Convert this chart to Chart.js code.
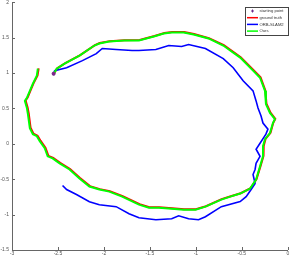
<!DOCTYPE html>
<html><head><meta charset="utf-8">
<script src="https://cdn.jsdelivr.net/npm/chart.js@4"></script>
<style>html,body{margin:0;padding:0;background:#fff;overflow:hidden}#outer{width:291px;height:257px;overflow:hidden;position:relative}#wrap{position:absolute;left:0;top:-3px;width:293px;height:261px}</style>
</head><body><div id="outer"><div id="wrap"><canvas id="c"></canvas></div></div>
<script>
const xTicks = [-3, -2.5, -2, -1.5, -1, -0.5, 0];
const yTicks = [-1.5, -1, -0.5, 0, 0.5, 1, 1.5, 2];
const startX = [-2.547];
const startY = [0.99];
const oursX = [-2.547,-2.514,-2.428,-2.266,-2.104,-2.050,-1.942,-1.781,-1.619,-1.457,-1.349,-1.263,-1.133,-1.025,-0.863,-0.702,-0.518,-0.378,-0.302,-0.248,-0.238,-0.194,-0.140,-0.162,-0.194,-0.248,-0.270,-0.270,-0.302,-0.345,-0.410,-0.518,-0.626,-0.723,-0.896,-1.004,-1.133,-1.263,-1.403,-1.511,-1.619,-1.802,-1.942,-2.050,-2.158,-2.266,-2.374,-2.482,-2.558,-2.612,-2.644,-2.698,-2.730,-2.773,-2.806,-2.827,-2.838,-2.860,-2.838,-2.806,-2.773,-2.730,-2.719];
const oursY = [0.990,1.061,1.132,1.246,1.388,1.417,1.445,1.459,1.459,1.516,1.559,1.573,1.573,1.545,1.488,1.388,1.218,1.033,0.933,0.748,0.563,0.435,0.350,0.293,0.151,0.065,-0.034,-0.177,-0.319,-0.504,-0.632,-0.703,-0.746,-0.788,-0.888,-0.931,-0.931,-0.917,-0.902,-0.902,-0.860,-0.746,-0.675,-0.646,-0.604,-0.490,-0.362,-0.276,-0.205,-0.177,-0.063,0.037,0.108,0.136,0.222,0.421,0.506,0.606,0.648,0.748,0.848,0.961,1.061];
const truthX = [-2.547,-2.508,-2.420,-2.258,-2.098,-2.046,-1.938,-1.776,-1.612,-1.450,-1.342,-1.258,-1.128,-1.020,-0.858,-0.696,-0.512,-0.372,-0.296,-0.244,-0.232,-0.188,-0.136,-0.158,-0.188,-0.242,-0.262,-0.264,-0.296,-0.340,-0.404,-0.512,-0.620,-0.720,-0.890,-1.000,-1.128,-1.258,-1.398,-1.506,-1.612,-1.796,-1.936,-2.044,-2.152,-2.260,-2.368,-2.476,-2.552,-2.604,-2.636,-2.690,-2.722,-2.766,-2.798,-2.818,-2.830,-2.852,-2.830,-2.798,-2.766,-2.722,-2.710];
const truthY = [0.990,1.066,1.138,1.252,1.394,1.424,1.450,1.462,1.466,1.522,1.566,1.580,1.578,1.550,1.492,1.394,1.224,1.038,0.938,0.752,0.566,0.440,0.352,0.296,0.156,0.068,-0.030,-0.172,-0.314,-0.498,-0.626,-0.698,-0.740,-0.782,-0.882,-0.924,-0.924,-0.910,-0.896,-0.896,-0.852,-0.740,-0.668,-0.640,-0.598,-0.482,-0.356,-0.270,-0.198,-0.170,-0.056,0.044,0.114,0.142,0.228,0.428,0.512,0.612,0.654,0.754,0.854,0.966,1.066];
const orbX = [-2.547,-2.536,-2.406,-2.234,-2.083,-2.018,-1.867,-1.694,-1.619,-1.435,-1.295,-1.155,-1.079,-0.896,-0.702,-0.594,-0.486,-0.378,-0.345,-0.324,-0.291,-0.270,-0.216,-0.238,-0.302,-0.345,-0.302,-0.345,-0.356,-0.378,-0.356,-0.399,-0.453,-0.518,-0.723,-0.896,-0.971,-1.079,-1.187,-1.263,-1.435,-1.619,-1.727,-1.867,-2.050,-2.158,-2.299,-2.406,-2.450];
const orbY = [0.990,1.033,1.075,1.175,1.274,1.346,1.331,1.317,1.317,1.331,1.388,1.374,1.402,1.346,1.203,1.075,0.890,0.748,0.606,0.506,0.392,0.293,0.207,0.136,0.008,-0.077,-0.177,-0.276,-0.362,-0.433,-0.561,-0.646,-0.746,-0.817,-0.888,-1.030,-1.073,-1.059,-1.016,-1.059,-1.073,-1.045,-0.988,-0.888,-0.860,-0.817,-0.717,-0.646,-0.589];
const seriesLabels = ['starting point','ground truth','ORB-SLAM2','Ours'];

const pts = (xs, ys) => xs.map((x, i) => ({x, y: ys[i]}));
const FONT = 'Liberation Sans, Arial, sans-serif';

const tickMarks = {
  id: 'tickMarks',
  afterDraw(chart) {
    const {ctx, chartArea: a, scales: {x, y}} = chart;
    ctx.save();
    ctx.strokeStyle = '#666'; ctx.lineWidth = 1;
    ctx.beginPath();
    xTicks.forEach(v => { const px = Math.round(x.getPixelForValue(v)) + 0.5; ctx.moveTo(px, a.bottom); ctx.lineTo(px, a.bottom - 3); });
    yTicks.forEach(v => { const py = Math.round(y.getPixelForValue(v)) + 0.5; ctx.moveTo(a.left, py); ctx.lineTo(a.left + 3, py); });
    ctx.stroke();
    ctx.restore();
  }
};

const legendBox = {
  id: 'legendBox',
  afterDraw(chart) {
    const ctx = chart.ctx;
    const bx = 245, by = 10, bw = 43, bh = 28;
    ctx.save();
    ctx.fillStyle = '#fff'; ctx.fillRect(bx, by, bw, bh);
    ctx.strokeStyle = '#444'; ctx.lineWidth = 1;
    ctx.strokeRect(bx + 0.5, by + 0.5, bw, bh);
    const colors = ['#6a2a8a', '#ff0000', '#0000ff', '#00ff00'];
    ctx.font = '4.2px ' + FONT; ctx.textBaseline = 'middle';
    seriesLabels.forEach((lab, i) => {
      const ry = by + 4 + i * 6.7;
      if (i === 0) {
        ctx.strokeStyle = colors[0]; ctx.lineWidth = 1;
        ctx.beginPath();
        const cx = 252.5;
        ctx.moveTo(cx - 1.5, ry); ctx.lineTo(cx + 1.5, ry);
        ctx.moveTo(cx, ry - 1.5); ctx.lineTo(cx, ry + 1.5);
        ctx.stroke();
      } else {
        ctx.strokeStyle = colors[i]; ctx.lineWidth = 1.5;
        ctx.beginPath(); ctx.moveTo(247, ry); ctx.lineTo(258, ry); ctx.stroke();
      }
      ctx.fillStyle = '#333';
      ctx.fillText(lab, 259.5, ry);
    });
    ctx.restore();
  }
};

new Chart(document.getElementById('c'), {
  type: 'scatter',
  data: {
    datasets: [
      {label: seriesLabels[1], data: pts(truthX, truthY), showLine: true, borderColor: '#ff0000', borderWidth: 2, pointRadius: 0, order: 3},
      {label: seriesLabels[2], data: pts(orbX, orbY), showLine: true, borderColor: '#0000ff', borderWidth: 1.6, pointRadius: 0, order: 2},
      {label: seriesLabels[3], data: pts(oursX, oursY), showLine: true, borderColor: '#00ff00', borderWidth: 2, pointRadius: 0, order: 1},
      {label: seriesLabels[0], data: pts(startX, startY), showLine: false, pointStyle: 'star', pointRadius: 2, borderColor: '#7a2a8a', backgroundColor: '#c02040', borderWidth: 1.2, order: 0}
    ]
  },
  options: {
    responsive: true, maintainAspectRatio: false, animation: false,
    layout: {padding: {top: 0, right: 0, left: 0, bottom: 0}},
    plugins: {legend: {display: false}, tooltip: {enabled: false}},
    scales: {
      x: {
        type: 'linear', min: -3, max: 0,
        afterBuildTicks: s => { s.ticks = xTicks.map(v => ({value: v})); },
        ticks: {font: {size: 5, family: FONT}, color: '#555', padding: 1, maxRotation: 0, callback: v => String(v)},
        grid: {display: false, drawTicks: false},
        border: {display: true, color: '#666', width: 1},
        afterFit: s => { s.height = 8; s.paddingLeft = 0; s.paddingRight = 0; }
      },
      y: {
        type: 'linear', min: -1.5, max: 2,
        afterBuildTicks: s => { s.ticks = yTicks.map(v => ({value: v})); },
        ticks: {font: {size: 5, family: FONT}, color: '#555', padding: 3, callback: v => String(v)},
        grid: {display: false, drawTicks: false},
        border: {display: true, color: '#666', width: 1},
        afterFit: s => { s.width = 12; s.paddingTop = 0; s.paddingBottom = 0; }
      }
    }
  },
  plugins: [tickMarks, legendBox]
});
</script>
</body></html>
